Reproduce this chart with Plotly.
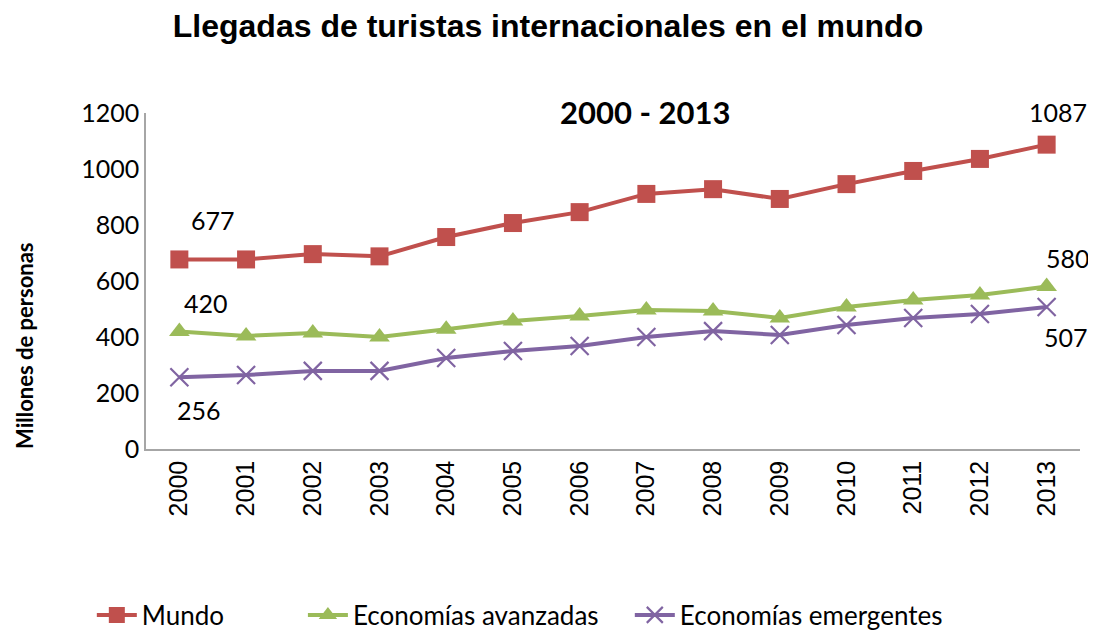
import plotly.graph_objects as go

years = ["2000", "2001", "2002", "2003", "2004", "2005", "2006",
         "2007", "2008", "2009", "2010", "2011", "2012", "2013"]
mundo = [677, 677, 696, 688, 757, 807, 846, 911, 928, 893, 946, 993, 1036, 1087]
avanzadas = [420, 404, 414, 400, 428, 457, 475, 496, 493, 468, 507, 532, 550, 580]
emergentes = [256, 264, 279, 279, 325, 350, 368, 400, 421, 407, 443, 468, 482, 507]

names = ["Mundo", "Economías avanzadas", "Economías emergentes"]
colors = ["#C0504D", "#9BBB59", "#8064A2"]
symbols = ["square", "triangle-up", "x-thin"]
legend_ids = ["legend", "legend2", "legend3"]
legend_x = [-0.058, 0.168, 0.518]

CAL = "Lato, 'Open Sans', sans-serif"
ARI = "Liberation Sans, Arial, sans-serif"

# page body has an 8px margin, so the figure is 8px smaller than the window
W, H = 1088, 624
PL, PR, PT, PB = 138, 16, 105, 183  # plot area margins
plot_w = W - PL - PR
plot_h = H - PT - PB

fig = go.Figure()
for name, vals, col, sym, lid in zip(names, [mundo, avanzadas, emergentes], colors, symbols, legend_ids):
    if sym == "x-thin":
        marker = dict(symbol=sym, size=18, color=col, line=dict(color=col, width=2.2))
    else:
        marker = dict(symbol=sym, size=18, color=col)
    fig.add_trace(go.Scatter(
        x=list(range(len(years))), y=vals, name=name, mode="lines+markers",
        line=dict(color=col, width=4), marker=marker, legend=lid,
    ))

# data labels (first and last points), offsets in px
label_specs = [
    (0, mundo, 34, 39),
    (0, avanzadas, 27, 28),
    (0, emergentes, 20, -33),
    (len(years) - 1, mundo, 11, 33),
    (len(years) - 1, avanzadas, 21, 29),
    (len(years) - 1, emergentes, 19, -30),
]
for idx, series, dx, dy in label_specs:
    fig.add_annotation(x=idx, y=series[idx], xref="x", yref="y",
                       text=str(series[idx]), showarrow=False,
                       xshift=dx, yshift=dy,
                       font=dict(family=CAL, size=25, color="#000000"))

fig.add_annotation(text="<b>2000 - 2013</b>", xref="paper", yref="paper",
                   x=(645 - 8 - PL) / plot_w, y=(441 - 104) / plot_h,
                   yanchor="middle", xanchor="center", showarrow=False,
                   font=dict(family=CAL, size=31, color="#000000"))

fig.add_annotation(text="<b>Millones de personas</b>", xref="paper", yref="paper",
                   x=(24 - 8 - PL) / plot_w, y=(441 - 338) / plot_h,
                   xanchor="center", yanchor="middle",
                   textangle=-90, showarrow=False,
                   font=dict(family=CAL, size=22, color="#000000"))

legend_common = dict(orientation="h", yanchor="middle", y=(441 - 607) / plot_h, xanchor="left",
                     font=dict(family=CAL, size=26, color="#000000"),
                     bgcolor="rgba(0,0,0,0)", itemwidth=40)

fig.update_layout(
    width=W, height=H,
    paper_bgcolor="white", plot_bgcolor="white",
    margin=dict(l=PL, r=PR, t=PT, b=PB, autoexpand=False),
    title=dict(text="<b>Llegadas de turistas internacionales en el mundo</b>",
               x=(548 - 8) / W, xanchor="center", y=1 - (26 - 8) / H, yanchor="middle",
               font=dict(family=ARI, size=32, color="#000000")),
    xaxis=dict(tickmode="array", tickvals=list(range(len(years))), ticktext=years,
               range=[-0.5, len(years) - 0.5], tickangle=-90, automargin=False,
               showline=True, linecolor="#A6A6A6", linewidth=1.5,
               showgrid=False, ticks="", zeroline=False,
               tickfont=dict(family=ARI, size=25, color="#000000")),
    yaxis=dict(range=[0, 1200], dtick=200, showline=True, linecolor="#A6A6A6",
               linewidth=1.5, showgrid=False, ticks="", zeroline=False, automargin=False,
               tickfont=dict(family=CAL, size=25, color="#000000")),
    legend=dict(legend_common, x=legend_x[0]),
    legend2=dict(legend_common, x=legend_x[1]),
    legend3=dict(legend_common, x=legend_x[2]),
    showlegend=True,
)

fig.write_html("out.html")
